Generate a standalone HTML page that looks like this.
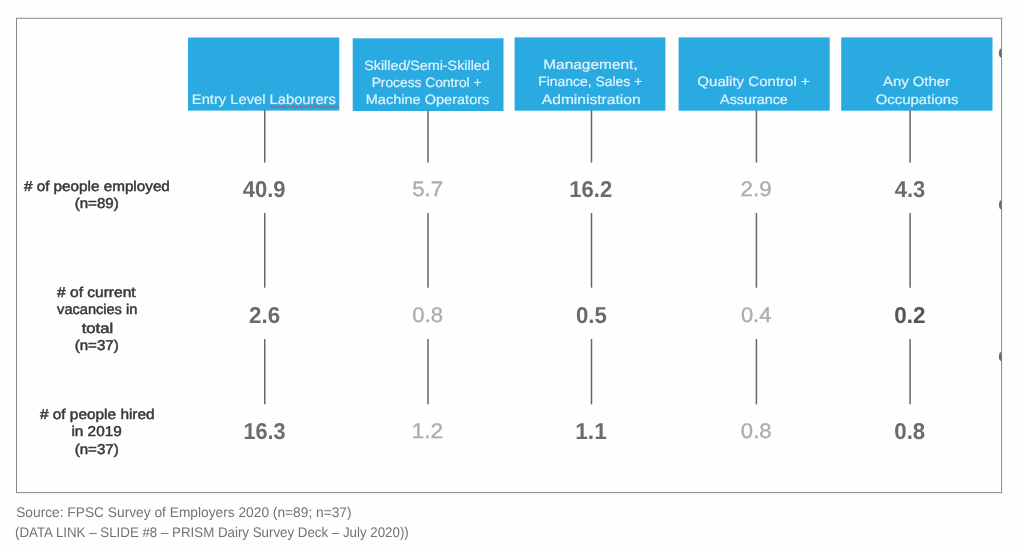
<!DOCTYPE html>
<html lang="en">
<head>
<meta charset="utf-8">
<title>Employment by occupation</title>
<style>
html,body{margin:0;padding:0;background:#fefefe;}
body{text-rendering:geometricPrecision;width:1024px;height:552px;position:relative;overflow:hidden;font-family:"Liberation Sans",sans-serif;}
.t{position:absolute;white-space:nowrap;line-height:1;transform-origin:0 0;margin:0;}
.h{color:#e0f2fb;-webkit-text-stroke:0.2px #e0f2fb;}
.l{color:#383838;-webkit-text-stroke:0.5px #383838;}
.vb{color:#6b6b6b;font-weight:bold;}
#v14{color:#555;}
.vl{color:#adadad;-webkit-text-stroke:0.35px #adadad;}
.s{color:#727272;}
svg.ov{position:absolute;left:0;top:0;}
svg.ov g.soft{filter:blur(0.35px);}
.h,.l,.vb,.vl{filter:blur(0.4px);}
</style>
</head>
<body>
<svg class="ov" width="1024" height="552" viewBox="0 0 1024 552"><rect x="16.5" y="18.3" width="985.1" height="474.3" fill="none" stroke="#888" stroke-width="1"/><g class="soft"><rect x="188" y="37.5" width="151.3" height="73.1" fill="#29abe2"/><rect x="352.7" y="38.3" width="150.8" height="72.7" fill="#29abe2"/><rect x="514.6" y="37.4" width="150.8" height="73.3" fill="#29abe2"/><rect x="678.6" y="37.4" width="151.1" height="73.3" fill="#29abe2"/><rect x="841.2" y="37.4" width="151.3" height="73.3" fill="#29abe2"/><line x1="264.75" y1="110.1" x2="264.75" y2="162.5" stroke="#666" stroke-width="1.5"/><line x1="264.75" y1="213" x2="264.75" y2="287.7" stroke="#666" stroke-width="1.5"/><line x1="264.75" y1="339" x2="264.75" y2="404.3" stroke="#666" stroke-width="1.5"/><line x1="428.0" y1="110.5" x2="428.0" y2="162.5" stroke="#666" stroke-width="1.5"/><line x1="428.0" y1="213" x2="428.0" y2="287.7" stroke="#666" stroke-width="1.5"/><line x1="428.0" y1="339" x2="428.0" y2="404.3" stroke="#666" stroke-width="1.5"/><line x1="591.5" y1="110.2" x2="591.5" y2="162.5" stroke="#666" stroke-width="1.5"/><line x1="591.5" y1="213" x2="591.5" y2="287.7" stroke="#666" stroke-width="1.5"/><line x1="591.5" y1="339" x2="591.5" y2="404.3" stroke="#666" stroke-width="1.5"/><line x1="756.4" y1="110.2" x2="756.4" y2="162.5" stroke="#666" stroke-width="1.5"/><line x1="756.4" y1="213" x2="756.4" y2="287.7" stroke="#666" stroke-width="1.5"/><line x1="756.4" y1="339" x2="756.4" y2="404.3" stroke="#666" stroke-width="1.5"/><line x1="910.1" y1="110.2" x2="910.1" y2="162.5" stroke="#666" stroke-width="1.5"/><line x1="910.1" y1="213" x2="910.1" y2="287.7" stroke="#666" stroke-width="1.5"/><line x1="910.1" y1="339" x2="910.1" y2="404.3" stroke="#666" stroke-width="1.5"/><polyline points="270.4,106.3 272.2,107.6 274.1,106.3 276.0,107.6 277.8,106.3 279.7,107.6 281.5,106.3 283.4,107.6 285.2,106.3 287.1,107.6 288.9,106.3 290.8,107.6 292.6,106.3 294.5,107.6 296.3,106.3 298.2,107.6 300.0,106.3 301.9,107.6 303.7,106.3 305.6,107.6 307.4,106.3 309.3,107.6 311.1,106.3 313.0,107.6 314.8,106.3 316.7,107.6 318.5,106.3 320.4,107.6 322.2,106.3 324.1,107.6 325.9,106.3 327.8,107.6 329.6,106.3 331.5,107.6 333.3,106.3 335.2,107.6 337.0,106.3 338.9,107.6" fill="none" stroke="#e0344a" stroke-width="0.85"/><path d="M1001.5 48.5 A2.5 4.4 0 0 0 1001.5 57.5 Z" fill="#6a6a6a"/><path d="M1001.5 200.3 A2.5 4.4 0 0 0 1001.5 209.3 Z" fill="#6a6a6a"/><path d="M1001.5 352.0 A2.5 4.4 0 0 0 1001.5 361.0 Z" fill="#6a6a6a"/></g></svg>
<div class="t h" id="h1a" style="left:191px;top:93px;font-size:13.8px;transform:translateX(0.81px) scaleX(1.0674)">Entry Level Labourers</div>
<div class="t h" id="h2a" style="left:364px;top:59px;font-size:13.5px;transform:translateX(0.26px) scaleX(1.0582)">Skilled/Semi-Skilled</div>
<div class="t h" id="h2b" style="left:371px;top:76px;font-size:13.5px;transform:translateX(0.64px) scaleX(1.0206)">Process Control +</div>
<div class="t h" id="h2c" style="left:365px;top:93px;font-size:13.5px;transform:translateX(0.77px) scaleX(1.0762)">Machine Operators</div>
<div class="t h" id="h3a" style="left:543px;top:58px;font-size:13.5px;transform:translateX(0.20px) scaleX(1.1444)">Management,</div>
<div class="t h" id="h3b" style="left:538px;top:75px;font-size:13.5px;transform:translateX(0.19px) scaleX(1.0314)">Finance, Sales +</div>
<div class="t h" id="h3c" style="left:541px;top:93px;font-size:13.5px;transform:translateX(0.83px) scaleX(1.1543)">Administration</div>
<div class="t h" id="h4a" style="left:697px;top:75px;font-size:13.5px;transform:translateX(0.34px) scaleX(1.1137)">Quality Control +</div>
<div class="t h" id="h4b" style="left:720px;top:93px;font-size:13.5px;transform:translateX(0.07px) scaleX(1.0618)">Assurance</div>
<div class="t h" id="h5a" style="left:883px;top:75px;font-size:13.5px;transform:translateX(0.04px) scaleX(1.1003)">Any Other</div>
<div class="t h" id="h5b" style="left:875px;top:93px;font-size:13.5px;transform:translateX(0.70px) scaleX(1.1035)">Occupations</div>
<div class="t l" id="l1a" style="left:23px;top:180px;font-size:14.2px;transform:translateX(0.91px) scaleX(1.0758)"># of people employed</div>
<div class="t l" id="l1b" style="left:74px;top:197px;font-size:14.2px;transform:translateX(0.69px) scaleX(1.0636)">(n=89)</div>
<div class="t l" id="l2a" style="left:57px;top:286px;font-size:14.2px;transform:translateX(0.05px) scaleX(1.0951)"># of current</div>
<div class="t l" id="l2b" style="left:57px;top:303px;font-size:14.2px;transform:translateX(0.12px) scaleX(1.0268)">vacancies in</div>
<div class="t l" id="l2c" style="left:81px;top:322px;font-size:14.2px;transform:translateX(0.65px) scaleX(1.1744)">total</div>
<div class="t l" id="l2d" style="left:74px;top:339px;font-size:14.2px;transform:translateX(0.69px) scaleX(1.0636)">(n=37)</div>
<div class="t l" id="l3a" style="left:39px;top:408px;font-size:14.2px;transform:translateX(0.90px) scaleX(1.0853)"># of people hired</div>
<div class="t l" id="l3b" style="left:71px;top:425px;font-size:14.2px;transform:translateX(0.39px) scaleX(1.0819)">in 2019</div>
<div class="t l" id="l3c" style="left:74px;top:443px;font-size:14.2px;transform:translateX(0.69px) scaleX(1.0636)">(n=37)</div>
<div class="t vb" id="v00" style="left:242px;top:178px;font-size:23px;transform:translateX(0.75px) scaleX(0.9574)">40.9</div>
<div class="t vl" id="v01" style="left:412px;top:179px;font-size:21px;transform:translateX(0.14px) scaleX(1.0622)">5.7</div>
<div class="t vb" id="v02" style="left:569px;top:178px;font-size:23px;transform:translateX(0.33px) scaleX(0.9554)">16.2</div>
<div class="t vl" id="v03" style="left:740px;top:179px;font-size:21px;transform:translateX(0.62px) scaleX(1.0650)">2.9</div>
<div class="t vb" id="v04" style="left:894px;top:178px;font-size:23px;transform:translateX(0.76px) scaleX(0.9518)">4.3</div>
<div class="t vb" id="v10" style="left:249px;top:304px;font-size:23px;transform:translateX(0.03px) scaleX(0.9722)">2.6</div>
<div class="t vl" id="v11" style="left:412px;top:305px;font-size:21px;transform:translateX(0.32px) scaleX(1.0537)">0.8</div>
<div class="t vb" id="v12" style="left:575px;top:304px;font-size:23px;transform:translateX(0.93px) scaleX(0.9648)">0.5</div>
<div class="t vl" id="v13" style="left:740px;top:305px;font-size:21px;transform:translateX(0.90px) scaleX(1.0433)">0.4</div>
<div class="t vb" id="v14" style="left:894px;top:304px;font-size:23px;transform:translateX(0.25px) scaleX(0.9752)">0.2</div>
<div class="t vb" id="v20" style="left:243px;top:420px;font-size:23px;transform:translateX(0.39px) scaleX(0.9418)">16.3</div>
<div class="t vl" id="v21" style="left:411px;top:421px;font-size:21px;transform:translateX(0.51px) scaleX(1.0894)">1.2</div>
<div class="t vb" id="v22" style="left:575px;top:420px;font-size:23px;transform:translateX(0.27px) scaleX(0.9836)">1.1</div>
<div class="t vl" id="v23" style="left:740px;top:421px;font-size:21px;transform:translateX(0.86px) scaleX(1.0508)">0.8</div>
<div class="t vb" id="v24" style="left:894px;top:420px;font-size:23px;transform:translateX(0.27px) scaleX(0.9670)">0.8</div>
<div class="t s" id="s1" style="left:16px;top:505px;font-size:14px;transform:translateX(0.18px) scaleX(0.9817)">Source: FPSC Survey of Employers 2020 (n=89; n=37)</div>
<div class="t s" id="s2" style="left:14px;top:525px;font-size:14px;transform:translateX(0.99px) scaleX(0.9507)">(DATA LINK – SLIDE #8 – PRISM Dairy Survey Deck – July 2020))</div>
</body>
</html>
